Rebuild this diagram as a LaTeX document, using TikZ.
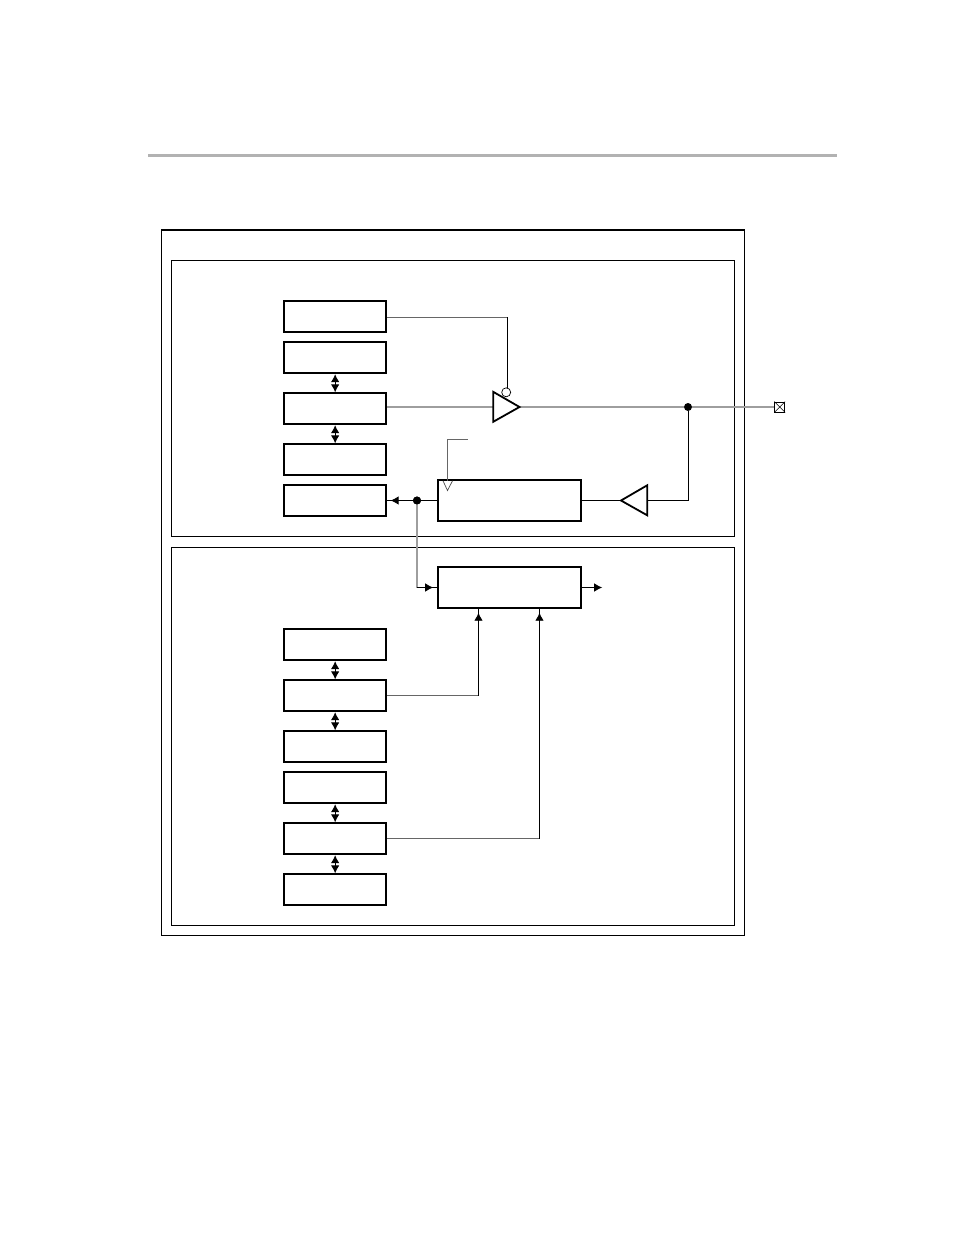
\documentclass[tikz,border=0pt]{standalone}
\usetikzlibrary{arrows.meta,calc}
\tikzset{
  x=1pt,y=-1pt,
  regbox/.style={draw=black,line width=1.9pt,fill=white,inner sep=0pt,minimum width=102pt,minimum height=31pt,anchor=north west},
  widebox/.style={draw=black,line width=1.9pt,fill=white,inner sep=0pt,minimum width=143.2pt,minimum height=41pt,anchor=north west},
  frame/.style={draw=black,line width=1pt},
  graywire/.style={draw=black!38,line width=1.3pt},
  thinwire/.style={draw=black,line width=0.9pt},
  graythin/.style={draw=black!60,line width=0.9pt},
  tip/.style={-{Latex[length=8pt,width=8.5pt]}},
  gaptip/.style={tip,shorten >=3.5pt},
  dbl/.style={{Latex[length=8pt,width=8.5pt]}-{Latex[length=8pt,width=8.5pt]},line width=0.9pt},
  tri/.style={draw=black,line width=1.8pt,fill=white,line join=miter},
  dotnode/.style={circle,fill=black,inner sep=0pt,minimum size=8pt},
}
\begin{document}
\begin{tikzpicture}
\useasboundingbox (0,0) rectangle (954,1235);
% header rule
\coordinate (ruleL) at (148,155.5);
\coordinate (ruleR) at (837,155.5);
\draw[draw=black!30,line width=3pt] (ruleL) -- (ruleR);
\begin{scope}[xshift=-0.8pt,yshift=0.7pt]
% frames
\node[frame,inner sep=0pt,minimum width=583pt,minimum height=706pt,anchor=north west] (outer) at (162,230) {};
\draw[line width=1.8pt] ([yshift=-0.6pt]outer.north west) -- ([yshift=-0.6pt]outer.north east);
\node[frame,inner sep=0pt,minimum width=563pt,minimum height=276pt,anchor=north west] (upper) at (171.5,261) {};
\node[frame,inner sep=0pt,minimum width=563pt,minimum height=378pt,anchor=north west] (lower) at (171.5,547.5) {};
% upper boxes
\node[regbox] (a1) at (284,301) {};
\node[regbox] (a2) at (284,342) {};
\node[regbox] (a3) at (284,393) {};
\node[regbox] (a4) at (284,444) {};
\node[regbox] (a5) at (284,485) {};
% lower boxes
\node[regbox] (b1) at (284,629) {};
\node[regbox] (b2) at (284,680) {};
\node[regbox] (b3) at (284,731) {};
\node[regbox] (b4) at (284,772) {};
\node[regbox] (b5) at (284,823) {};
\node[regbox] (b6) at (284,874) {};
% wide boxes
\node[widebox] (rx) at (437.5,480) {};
\node[widebox] (cnt) at (437.5,567) {};
% double arrows
\draw[dbl] (a2.south) -- (a3.north);
\draw[dbl] (a3.south) -- (a4.north);
\draw[dbl] (b1.south) -- (b2.north);
\draw[dbl] (b2.south) -- (b3.north);
\draw[dbl] (b4.south) -- (b5.north);
\draw[dbl] (b5.south) -- (b6.north);
% output driver
\coordinate (drvA) at (494,392.5);
\coordinate (drvB) at (494,422.5);
\coordinate (drvC) at (520.3,407.7);
\coordinate (bubble) at (507,393);
\coordinate (pin) at (780.5,407.7);
\node[dotnode] (j1) at (688.8,407.7) {};
\coordinate (en) at (508.3,317.7);
\draw[graywire] (a3.east |- drvC) -- (drvA |- drvC);
\draw[graywire] (drvC) -- (j1) -- (pin);
\draw[graythin] (a1.east |- en) -- (en);
\draw[thinwire] (en) -- (en |- bubble);
\draw[tri] (drvA) -- (drvC) -- (drvB) -- cycle;
\draw[draw=black,line width=0.7pt,fill=white] (bubble) circle (4.5pt);
% pin
\node[draw=black,line width=0.8pt,fill=white,minimum size=10pt,inner sep=0pt] (pinbox) at (pin) {};
\draw[line width=0.5pt] (pinbox.north west) -- (pinbox.south east) (pinbox.north east) -- (pinbox.south west);
% input buffer
\coordinate (rcvA) at (648,486);
\coordinate (rcvB) at (648,516);
\coordinate (rcvC) at (621.8,501.2);
\draw[thinwire] (j1) |- (rcvA |- rcvC);
\draw[thinwire] (rx.east |- rcvC) -- (rcvC);
\draw[tri] (rcvA) -- (rcvC) -- (rcvB) -- cycle;
% clock
\coordinate (clkT) at (468.3,439.7);
\coordinate (clkC) at (448.3,439.7);
\coordinate (clkL) at (443.8,481.5);
\coordinate (clkR) at (453.3,481.5);
\coordinate (clkP) at (448.3,491.2);
\draw[graythin] (clkT) -- (clkC) -- (clkP |- clkL);
\draw[black!70,line width=0.7pt] (clkL) -- (clkP) -- (clkR);
% receive to a5
\node[dotnode] (j2) at (417.8,501.2) {};
\draw[thinwire] (rx.west |- j2) -- (a5.east |- j2);
\draw[thinwire,gaptip] (j2) -- (a5.east |- j2);
\node[dotnode] at (j2) {};
% to counter
\coordinate (turn) at (417.8,588.2);
\draw[graywire] (j2) -- (turn);
\draw[thinwire] (turn) -- (cnt.west |- turn);
\draw[thinwire,gaptip] (turn) -- (cnt.west |- turn);
\coordinate (outEnd) at (603,588.2);
\draw[thinwire,tip] (cnt.east |- turn) -- (outEnd);
% feed into counter
\coordinate (in1) at (479.3,696.2);
\coordinate (in2) at (540.3,839.2);
\draw[graythin] (b2.east |- in1) -- (in1);
\draw[thinwire] (in1) -- (in1 |- cnt.south);
\draw[thinwire,gaptip] (in1) -- (in1 |- cnt.south);
\draw[graythin] (b5.east |- in2) -- (in2);
\draw[thinwire] (in2) -- (in2 |- cnt.south);
\draw[thinwire,gaptip] (in2) -- (in2 |- cnt.south);
\end{scope}
\end{tikzpicture}
\end{document}
